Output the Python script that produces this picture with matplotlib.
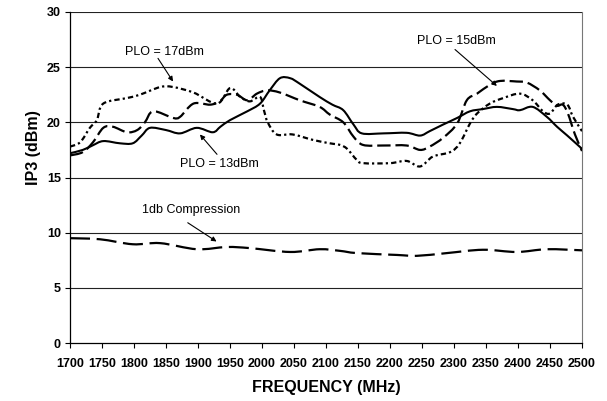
import matplotlib
matplotlib.use("Agg")
import matplotlib.pyplot as plt
from matplotlib.path import Path
from matplotlib.patches import PathPatch

plt.rcParams['font.family'] = ['Liberation Sans', 'DejaVu Sans']

# PLO = 13dBm (solid)
f13 = [1700, 1720, 1735, 1752, 1778, 1798, 1812, 1825, 1850, 1872, 1898, 1923, 1935, 1950,
       1977, 1997, 2012, 2028, 2044, 2059, 2090, 2110, 2127, 2143, 2156, 2190, 2226, 2247,
       2262, 2283, 2305, 2325, 2345, 2367, 2392, 2403, 2423, 2445, 2461, 2477, 2500]
ip3_13 = [17.2, 17.5, 17.9, 18.3, 18.1, 18.1, 18.8, 19.5, 19.3, 19.0, 19.5, 19.1, 19.6, 20.2,
          21.0, 21.7, 22.9, 24.0, 24.0, 23.5, 22.3, 21.6, 21.1, 19.8, 19.0, 19.0, 19.05, 18.8,
          19.2, 19.8, 20.4, 21.0, 21.2, 21.4, 21.2, 21.1, 21.4, 20.5, 19.6, 18.8, 17.6]

# PLO = 15dBm (dashed)
f15 = [1700, 1720, 1736, 1752, 1767, 1789, 1805, 1817, 1830, 1861, 1872, 1893, 1919, 1934,
       1945, 1961, 1977, 1992, 2008, 2028, 2059, 2090, 2106, 2127, 2143, 2158, 2190, 2226,
       2247, 2262, 2283, 2305, 2320, 2336, 2356, 2372, 2398, 2414, 2434, 2450, 2461, 2470,
       2478, 2489, 2500]
ip3_15 = [17.0, 17.3, 18.2, 19.5, 19.6, 19.1, 19.3, 20.0, 21.0, 20.4, 20.5, 21.7, 21.6, 21.9,
          22.5, 22.5, 22.0, 22.6, 22.9, 22.7, 22.0, 21.4, 20.7, 20.0, 18.7, 17.95, 17.9, 17.9,
          17.5, 17.8, 18.6, 19.9, 22.0, 22.6, 23.4, 23.75, 23.7, 23.6, 22.9, 22.0, 21.5, 21.6,
          20.8, 18.9, 17.4]

# PLO = 17dBm (dotted)
f17 = [1700, 1716, 1731, 1742, 1752, 1789, 1809, 1841, 1861, 1893, 1930, 1950, 1966, 1981,
       1997, 2003, 2009, 2023, 2048, 2080, 2106, 2122, 2133, 2148, 2158, 2200, 2226, 2247,
       2267, 2294, 2309, 2325, 2336, 2356, 2377, 2403, 2423, 2439, 2450, 2462, 2477, 2486, 2500]
ip3_17 = [17.8, 18.2, 19.5, 20.2, 21.7, 22.2, 22.5, 23.2, 23.2, 22.7, 21.7, 23.1, 22.3, 21.9,
          22.3, 21.1, 20.0, 18.9, 18.9, 18.4, 18.1, 17.95, 17.6, 16.6, 16.3, 16.3, 16.5, 16.0,
          16.9, 17.3, 18.1, 19.9, 20.8, 21.7, 22.2, 22.6, 22.0, 21.0, 20.8, 21.6, 21.6, 20.5, 19.2]

# 1dB compression
f_comp = [1700, 1747, 1798, 1841, 1898, 1945, 1981, 2044, 2090, 2122, 2148, 2211, 2242, 2289,
          2345, 2398, 2445, 2500]
p1db = [9.5, 9.4, 8.95, 9.05, 8.5, 8.7, 8.6, 8.25, 8.5, 8.35, 8.15, 7.98, 7.9, 8.15,
        8.45, 8.25, 8.5, 8.4]

xticks = list(range(1700, 2501, 50))
yticks = list(range(0, 31, 5))


def smooth_line(ax, xs, ys, **kw):
    # Excel style "smoothed line": cubic bezier segments through the points
    n = len(xs)
    verts = [(xs[0], ys[0])]
    codes = [Path.MOVETO]
    for i in range(n - 1):
        x0, y0 = (xs[i - 1], ys[i - 1]) if i > 0 else (xs[i], ys[i])
        x1, y1 = xs[i], ys[i]
        x2, y2 = xs[i + 1], ys[i + 1]
        x3, y3 = (xs[i + 2], ys[i + 2]) if i + 2 < n else (x2, y2)
        verts += [(x1 + (x2 - x0) / 6, y1 + (y2 - y0) / 6),
                  (x2 - (x3 - x1) / 6, y2 - (y3 - y1) / 6),
                  (x2, y2)]
        codes += [Path.CURVE4] * 3
    patch = PathPatch(Path(verts, codes), facecolor='none', edgecolor='black',
                      capstyle='butt', joinstyle='round', **kw)
    ax.add_patch(patch)


fig = plt.figure(figsize=(6.07, 4.01), dpi=100)
ax = fig.add_axes([70 / 607, 58 / 401, 512 / 607, 331 / 401])

for y in yticks[1:]:
    ax.axhline(y, color='#222222', lw=0.8, zorder=1)

smooth_line(ax, f_comp, p1db, lw=1.6, linestyle=(0, (9.0, 3.0)), zorder=3)
smooth_line(ax, f17, ip3_17, lw=1.6, linestyle=(0, (2.4, 1.4, 1.0, 1.4)), zorder=3)
smooth_line(ax, f15, ip3_15, lw=1.6, linestyle=(0, (6.0, 2.2)), zorder=3)
smooth_line(ax, f13, ip3_13, lw=1.5, zorder=4)

ax.set_xlim(1700, 2500)
ax.set_ylim(0, 30)
ax.set_xticks(xticks)
ax.set_yticks(yticks)
ax.tick_params(axis='both', direction='out', length=3.5, width=0.8, labelsize=9, pad=7)
ax.tick_params(axis='y', pad=3)
for lab in ax.get_xticklabels() + ax.get_yticklabels():
    lab.set_fontweight('bold')

ax.spines['top'].set_visible(False)
ax.spines['right'].set_color('#777777')
ax.spines['left'].set_linewidth(0.9)
ax.spines['bottom'].set_linewidth(0.9)

ax.set_xlabel('FREQUENCY (MHz)', fontsize=11.5, fontweight='bold')
ax.set_ylabel('IP3 (dBm)', fontsize=11.5, fontweight='bold')
ax.xaxis.set_label_coords(0.5, -0.112)
ax.yaxis.set_label_coords(-0.057, 0.59)

arrow = dict(arrowstyle='-|>', color='black', lw=0.8, mutation_scale=7, shrinkA=0, shrinkB=0)
ax.text(1847, 26.4, 'PLO = 17dBm', fontsize=9, ha='center', va='center')
ax.annotate('', xy=(1861, 23.7), xytext=(1837.5, 25.8), arrowprops=arrow)
ax.text(1933, 16.2, 'PLO = 13dBm', fontsize=9, ha='center', va='center')
ax.annotate('', xy=(1903, 18.9), xytext=(1929.7, 17.1), arrowprops=arrow)
ax.text(2304, 27.4, 'PLO = 15dBm', fontsize=9, ha='center', va='center')
ax.annotate('', xy=(2367, 23.3), xytext=(2301.6, 26.6), arrowprops=arrow)
ax.text(1889, 12.06, '1db Compression', fontsize=9, ha='center', va='center')
ax.annotate('', xy=(1929, 9.2), xytext=(1884, 10.9), arrowprops=arrow)

fig.savefig('out.png', dpi=100)
